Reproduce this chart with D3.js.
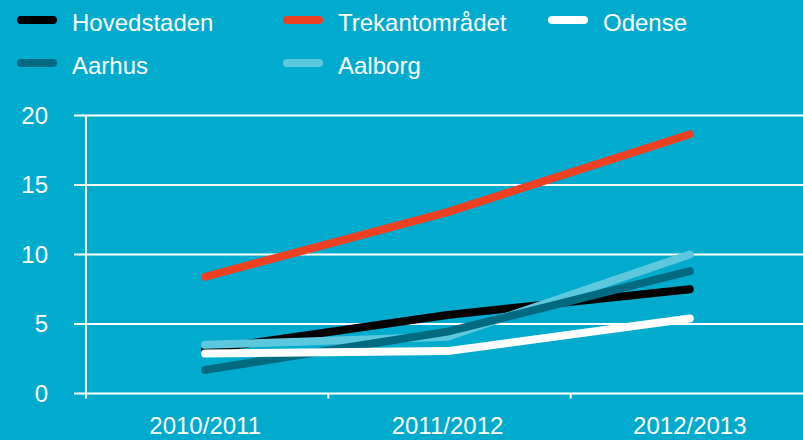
<!DOCTYPE html>
<html>
<head>
<meta charset="utf-8">
<script src="https://cdn.jsdelivr.net/npm/d3@7"></script>
<style>
  html, body { margin: 0; padding: 0; background: #00abcd; }
  svg { display: block; font-family: "Liberation Sans", Arial, Helvetica, sans-serif; }
</style>
</head>
<body>
<svg id="chart" width="803" height="440"></svg>
<script>
// data
var seasons = ["2010/2011", "2011/2012", "2012/2013"];
var y_ticks = [0, 5, 10, 15, 20];

var hovedstaden = [3.15, 5.65, 7.5];
var trekant = [8.4, 13.05, 18.65];
var odense = [2.87, 3.05, 5.4];
var aarhus = [1.7, 4.45, 8.8];
var aalborg = [3.5, 4.08, 10.0];

// legend order and draw order are not the same
var legend_items = [
  {name: "Hovedstaden", color: "#000000", col: 0, row: 0},
  {name: "Trekantområdet", color: "#ee4124", col: 1, row: 0},
  {name: "Odense", color: "#ffffff", col: 2, row: 0},
  {name: "Aarhus", color: "#006b80", col: 0, row: 1},
  {name: "Aalborg", color: "#5cc8dd", col: 1, row: 1}
];
var series = [
  {name: "Hovedstaden", values: hovedstaden, color: "#000000"},
  {name: "Trekantområdet", values: trekant, color: "#ee4124"},
  {name: "Aalborg", values: aalborg, color: "#5cc8dd"},
  {name: "Aarhus", values: aarhus, color: "#006b80"},
  {name: "Odense", values: odense, color: "#ffffff"}
];

var svg = d3.select("#chart");

var x = d3.scaleBand().domain(seasons).range([86, 813]).paddingInner(0).paddingOuter(0);
var y = d3.scaleLinear().domain([0, 20]).range([393.5, 115.5]);

/* gridlines */
svg.append("g").selectAll("line")
  .data(y_ticks).enter().append("line")
  .attr("x1", 74).attr("x2", 803)
  .attr("y1", function(d) { return y(d); })
  .attr("y2", function(d) { return y(d); })
  .attr("stroke", "#fff").attr("stroke-width", 2);

/* y axis line */
svg.append("line")
  .attr("x1", 86).attr("x2", 86)
  .attr("y1", y(20) - 1).attr("y2", y(0) + 5)
  .attr("stroke", "#fff").attr("stroke-width", 2);

/* x tick marks at band edges */
svg.append("g").selectAll("line")
  .data(seasons.slice(1)).enter().append("line")
  .attr("x1", function(d) { return x(d); })
  .attr("x2", function(d) { return x(d); })
  .attr("y1", y(0)).attr("y2", y(0) + 5)
  .attr("stroke", "#fff").attr("stroke-width", 2);

/* y tick labels */
svg.append("g").selectAll("text")
  .data(y_ticks).enter().append("text")
  .attr("x", 48)
  .attr("y", function(d) { return y(d) + 8; })
  .attr("text-anchor", "end")
  .attr("fill", "#fff")
  .style("font-size", "24px")
  .text(function(d) { return d; });

/* x labels */
svg.append("g").selectAll("text")
  .data(seasons).enter().append("text")
  .attr("x", function(d) { return x(d) + x.bandwidth() / 2 - 2; })
  .attr("y", 434)
  .attr("text-anchor", "middle")
  .attr("fill", "#fff")
  .style("font-size", "24px")
  .text(function(d) { return d; });

/* lines */
var line = d3.line()
  .x(function(d, i) { return x(seasons[i]) + x.bandwidth() / 2 - 2; })
  .y(function(d) { return y(d); });

svg.append("g").selectAll("path")
  .data(series).enter().append("path")
  .attr("d", function(s) { return line(s.values); })
  .attr("fill", "none")
  .attr("stroke", function(s) { return s.color; })
  .attr("stroke-width", 8)
  .attr("stroke-linecap", "round")
  .attr("stroke-linejoin", "round");

/* legend */
var col_x = [21, 287, 552];
var row_y = [20, 63];
var legend = svg.append("g").selectAll("g")
  .data(legend_items).enter().append("g")
  .attr("transform", function(d) { return "translate(" + col_x[d.col] + "," + row_y[d.row] + ")"; });

legend.append("line")
  .attr("x1", 0).attr("x2", 32)
  .attr("y1", 0).attr("y2", 0)
  .attr("stroke", function(d) { return d.color; })
  .attr("stroke-width", 8)
  .attr("stroke-linecap", "round");

legend.append("text")
  .attr("x", 51).attr("y", 11)
  .attr("fill", "#fff")
  .style("font-size", "24px")
  .text(function(d) { return d.name; });
</script>
</body>
</html>
